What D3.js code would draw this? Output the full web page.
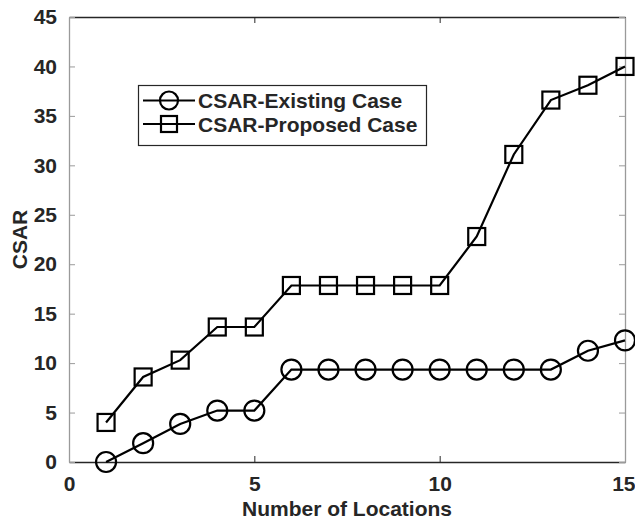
<!DOCTYPE html>
<html>
<head>
<meta charset="utf-8">
<script src="https://cdn.jsdelivr.net/npm/d3@7"></script>
<style>
  body { margin: 0; background: #fff; }
  svg text { font-family: "Liberation Sans", Arial, sans-serif; font-weight: bold; fill: #262626; }
</style>
</head>
<body>
<div id="chart"></div>
<script>
// data
const locations = [1, 2, 3, 4, 5, 6, 7, 8, 9, 10, 11, 12, 13, 14, 15]
const existingCase = [0, 1.9, 3.85, 5.2, 5.2, 9.35, 9.35, 9.35, 9.35, 9.35, 9.35, 9.35, 9.35, 11.25, 12.3]
const proposedCase = [4.0, 8.6, 10.3, 13.65, 13.65, 17.85, 17.85, 17.85, 17.85, 17.85, 22.8, 31.1, 36.6, 38.1, 40.0]
const xTicks = [0, 5, 10, 15]
const yTicks = [0, 5, 10, 15, 20, 25, 30, 35, 40, 45]
const seriesNames = ['CSAR-Existing Case', 'CSAR-Proposed Case']

const width = 635
const height = 525
const plot = {left: 69, top: 17, right: 625, bottom: 462}
const fontSize = 21

const svg = d3.select('#chart')
  .append('svg')
  .attr('width', width)
  .attr('height', height)

const x = d3.scaleLinear().domain([0, 15]).range([plot.left, plot.right])
const y = d3.scaleLinear().domain([0, 45]).range([plot.bottom, plot.top])

// axes with inward ticks
const axisColor = '#262626'
const lightAxis = '#9a9a9a'

function styleAxis (g, color) {
  g.select('.domain').attr('stroke', color).attr('stroke-width', 1.3)
  g.selectAll('.tick line').attr('stroke', color)
  g.selectAll('.tick text').attr('font-size', fontSize)
}

svg.append('g')
  .attr('transform', `translate(0, ${plot.bottom})`)
  .call(d3.axisBottom(x).tickValues(xTicks).tickSizeInner(-6).tickSizeOuter(0).tickPadding(14))
  .call(g => styleAxis(g, axisColor))
  // last label sits against the page edge
  .call(g => g.selectAll('.tick text').filter(d => d === 15).attr('text-anchor', 'end').attr('dx', 10))

svg.append('g')
  .attr('transform', `translate(0, ${plot.top})`)
  .call(d3.axisTop(x).tickValues(xTicks).tickSizeInner(-6).tickSizeOuter(0).tickFormat(''))
  .call(g => styleAxis(g, axisColor))

svg.append('g')
  .attr('transform', `translate(${plot.left}, 0)`)
  .call(d3.axisLeft(y).tickValues(yTicks).tickSizeInner(-6).tickSizeOuter(0).tickPadding(12))
  .call(g => styleAxis(g, lightAxis))

svg.append('g')
  .attr('transform', `translate(${plot.right}, 0)`)
  .call(d3.axisRight(y).tickValues(yTicks).tickSizeInner(-6).tickSizeOuter(0).tickFormat(''))
  .call(g => styleAxis(g, lightAxis))

// axis titles
svg.append('text')
  .attr('x', (plot.left + plot.right) / 2)
  .attr('y', 516)
  .attr('text-anchor', 'middle')
  .attr('font-size', fontSize)
  .text('Number of Locations')

svg.append('text')
  .attr('transform', `translate(27, ${(plot.top + plot.bottom) / 2}) rotate(-90)`)
  .attr('text-anchor', 'middle')
  .attr('font-size', fontSize)
  .text('CSAR')

// lines + markers
const line = d3.line()
  .x((d, i) => x(locations[i]))
  .y(d => y(d))

const g = svg.append('g')

g.append('path')
  .attr('d', line(existingCase))
  .attr('fill', 'none')
  .attr('stroke', '#000')
  .attr('stroke-width', 2.2)

g.append('path')
  .attr('d', line(proposedCase))
  .attr('fill', 'none')
  .attr('stroke', '#000')
  .attr('stroke-width', 2.2)

g.selectAll('circle.existing')
  .data(existingCase)
  .join('circle')
  .attr('class', 'existing')
  .attr('cx', (d, i) => x(locations[i]))
  .attr('cy', d => y(d))
  .attr('r', 10)
  .attr('fill', 'none')
  .attr('stroke', '#000')
  .attr('stroke-width', 2.2)

const sq = 17
g.selectAll('rect.proposed')
  .data(proposedCase)
  .join('rect')
  .attr('class', 'proposed')
  .attr('x', (d, i) => x(locations[i]) - sq / 2)
  .attr('y', d => y(d) - sq / 2)
  .attr('width', sq)
  .attr('height', sq)
  .attr('fill', 'none')
  .attr('stroke', '#000')
  .attr('stroke-width', 2.2)

// legend
const legend = svg.append('g')
legend.append('rect')
  .attr('x', 138.5)
  .attr('y', 85.5)
  .attr('width', 288)
  .attr('height', 60)
  .attr('fill', '#fff')
  .attr('stroke', axisColor)
  .attr('stroke-width', 1.2)

const rows = [100.5, 124]
seriesNames.forEach((name, i) => {
  const ry = rows[i]
  legend.append('line')
    .attr('x1', 143).attr('x2', 195)
    .attr('y1', ry).attr('y2', ry)
    .attr('stroke', '#000')
    .attr('stroke-width', 2.2)
  if (i === 0) {
    legend.append('circle')
      .attr('cx', 169).attr('cy', ry).attr('r', 9)
      .attr('fill', 'none').attr('stroke', '#000').attr('stroke-width', 2.2)
  } else {
    legend.append('rect')
      .attr('x', 169 - 8).attr('y', ry - 8).attr('width', 16).attr('height', 16)
      .attr('fill', 'none').attr('stroke', '#000').attr('stroke-width', 2.2)
  }
  legend.append('text')
    .attr('x', 198)
    .attr('y', ry + 7.5)
    .attr('font-size', fontSize)
    .attr('fill', '#000')
    .text(name)
})
</script>
</body>
</html>
